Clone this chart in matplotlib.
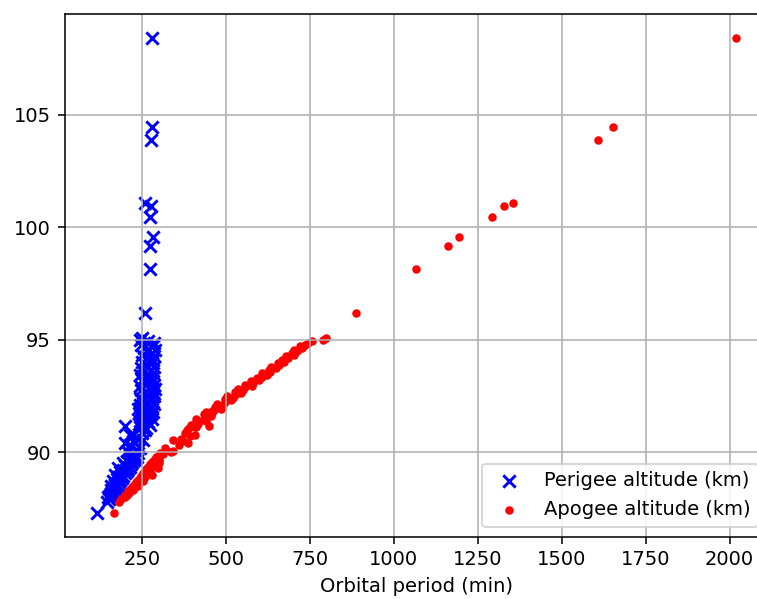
import matplotlib
matplotlib.use('Agg')
import matplotlib.pyplot as plt

# orbital period (min) of each satellite, with perigee / apogee altitude (km)
period = [87.30, 87.80, 87.90, 88.00, 88.05, 88.10, 88.15, 88.20, 88.25, 88.30,
          88.35, 88.40, 88.45, 88.50, 88.55, 88.60, 88.65, 88.70, 88.75, 88.80,
          88.85, 88.90, 88.95, 89.00, 89.05, 89.10, 89.15, 89.20, 89.25, 89.30,
          89.35, 89.40, 89.45, 89.50, 89.55, 89.60, 89.65, 89.70, 89.75, 89.80,
          89.90, 89.95, 90.00, 90.03, 90.10, 90.16, 90.30, 90.40, 90.50, 90.53,
          90.60, 90.71, 90.76, 90.85, 90.98,
          91.05, 91.10, 91.12, 91.16, 91.20, 91.25, 91.28, 91.32, 91.38, 91.40,
          91.45, 91.50, 91.55, 91.60, 91.64, 91.68, 91.72, 91.75, 91.80, 91.84,
          91.88, 91.90, 91.95, 92.02, 92.08, 92.15, 92.22, 92.30, 92.35, 92.42,
          92.50, 92.55, 92.62, 92.68, 92.75, 92.80, 92.88, 92.95, 93.00, 93.08,
          93.15, 93.22, 93.28, 93.35, 93.42, 93.50, 93.58, 93.65, 93.72, 93.80,
          93.88, 93.94, 94.02, 94.10, 94.18, 94.25, 94.32, 94.40, 94.48, 94.55,
          94.62, 94.70, 94.78, 94.86, 94.92, 94.98, 95.08,
          96.20, 98.16, 99.17, 99.54, 100.43, 100.93, 101.07, 103.87, 104.44, 108.40]

perigee = [116, 148, 152, 150, 158, 155, 162, 160, 166, 158,
           170, 165, 174, 160, 178, 170, 182, 165, 186, 175,
           190, 180, 195, 170, 200, 185, 205, 195, 210, 180,
           214, 200, 218, 195, 222, 205, 226, 215, 230, 235,
           225, 240, 210, 205, 235, 245, 215, 200, 225, 255,
           240, 222, 215, 250, 260,
           262, 245, 248, 200, 275, 242, 250, 270, 245, 265,
           280, 255, 248, 250, 260, 278, 243, 270, 284, 252,
           268, 240, 252, 280, 246, 286, 270, 250, 282, 244,
           288, 272, 255, 284, 248, 290, 275, 245, 286, 258,
           284, 250, 280, 262, 246, 285, 256, 278, 248, 286,
           262, 280, 250, 284, 266, 288, 252, 282, 270, 290,
           258, 284, 248, 286, 268, 244, 250,
           260, 276, 275, 283, 276, 278, 260, 277, 281, 282]

apogee = [168, 182, 189, 200, 197, 205, 205, 212, 210, 223,
          216, 226, 222, 240, 227, 240, 233, 255, 238, 255,
          244, 260, 248, 280, 255, 275, 260, 275, 264, 299,
          270, 289, 276, 300, 282, 300, 287, 300, 292, 293,
          313, 303, 337, 344, 322, 319, 360, 388, 372, 344,
          367, 394, 410, 380, 385,
          392, 412, 410, 450, 398, 418, 414, 412, 440, 420,
          412, 440, 437, 456, 443, 436, 460, 445, 442, 458,
          465, 486, 488, 467, 492, 474, 497, 517, 498, 522,
          505, 527, 547, 529, 552, 536, 558, 578, 557, 580,
          574, 599, 592, 607, 624, 608, 631, 630, 651, 636,
          658, 656, 675, 667, 684, 679, 702, 697, 711, 704,
          727, 722, 736, 744, 756, 790, 798,
          888, 1067, 1161, 1194, 1292, 1329, 1355, 1608, 1652, 2019]

fig = plt.figure(figsize=(757/140, 599/140), dpi=140)
# axes runs past the right edge of the picture, like the reference crop
ax = fig.add_axes([0.0855, 0.1043, 0.929, 0.8716])

ax.scatter(perigee, period, marker='x', c='b', s=40, label='Perigee altitude (km)')
ax.scatter(apogee, period, marker='.', c='r', s=45, label='Apogee altitude (km)')

ax.set_xlabel('Orbital period (min)')
ax.set_yticks([90, 95, 100, 105])
ax.legend(loc='lower right')
ax.grid(True)

fig.savefig('out.png', dpi=140)
